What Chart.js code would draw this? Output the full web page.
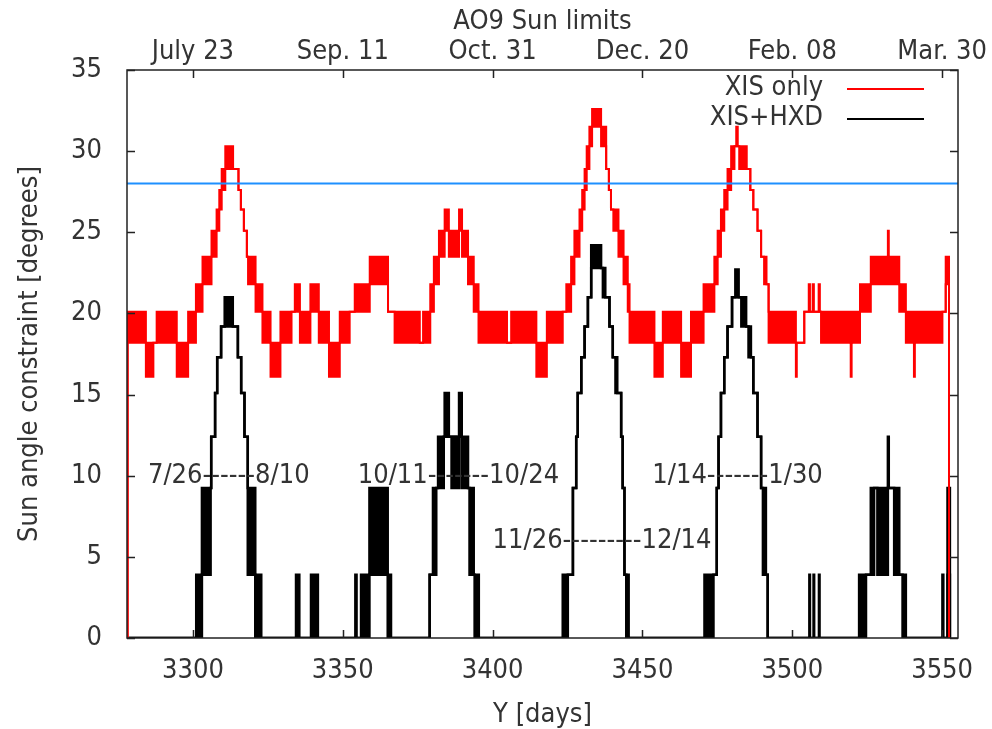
<!DOCTYPE html>
<html>
<head>
<meta charset="utf-8">
<title>AO9 Sun limits</title>
<script src="https://cdn.jsdelivr.net/npm/chart.js@4.4.1/dist/chart.umd.min.js"></script>
<style>
  html, body { margin: 0; padding: 0; background: #fff; }
  #wrap { width: 992px; height: 729px; }
</style>
</head>
<body>
<div id="wrap"><canvas id="sun"></canvas></div>
<script>
"use strict";

// x range and ticks (days)
const dayMin = 3278;
const dayMax = 3555.3;
const tickDays = [3300, 3350, 3400, 3450, 3500, 3550];
const topTickLabels = ["July 23", "Sep. 11", "Oct. 31", "Dec. 20", "Feb. 08", "Mar. 30"];
const sunLimit = 28;

// XIS only: each step starts at redDays[i]; rapid flicker drawn as a band low..high
const redDays = [
    3278.0, 3278.2, 3284.3, 3286.8, 3287.9, 3294.6, 3298.4, 3301.0, 3303.2, 3306.2,
    3307.9, 3308.8, 3309.6, 3310.8, 3313.4, 3315.2, 3316.0, 3317.0, 3318.0, 3318.4,
    3320.9, 3323.2, 3325.9, 3329.2, 3332.9, 3334.0, 3335.7, 3339.2, 3342.0, 3345.4,
    3349.0, 3352.3, 3354.0, 3359.0, 3365.1, 3367.3, 3375.7, 3376.8, 3379.2, 3380.4,
    3382.1, 3384.0, 3385.4, 3388.8, 3389.8, 3391.8, 3393.7, 3395.3, 3404.8, 3406.2,
    3414.6, 3418.1, 3423.4, 3424.6, 3426.2, 3427.3, 3429.0, 3429.9, 3430.7, 3431.4,
    3432.3, 3433.2, 3436.2, 3437.9, 3438.8, 3439.5, 3440.3, 3442.0, 3443.7, 3445.1,
    3445.7, 3454.0, 3456.8, 3462.9, 3466.2, 3470.4, 3474.0, 3475.1, 3476.2, 3477.3,
    3478.4, 3479.6, 3480.7, 3481.3, 3481.8, 3482.3, 3484.8, 3486.0, 3487.0, 3488.4,
    3489.6, 3490.6, 3491.4, 3492.1, 3501.2, 3501.5, 3504.0, 3505.5, 3505.9, 3506.8,
    3507.2, 3508.8, 3509.2, 3509.6, 3519.5, 3519.8, 3522.6, 3526.2, 3531.9, 3532.2,
    3535.7, 3537.9, 3540.6, 3540.9, 3550.1, 3551.2, 3552.3
];
const redLow = [
    0, 18.2, 16.1, 18.2, 18.2, 16.1, 18.2, 20.1, 21.8, 23.5,
    25.1, 26.4, 27.6, 28.9, 28.9, 27.6, 26.4, 25.1, 23.5, 21.8,
    20.1, 18.2, 16.1, 18.2, 20.1, 20.1, 18.2, 20.1, 18.2, 16.1,
    18.2, 20.1, 20.1, 21.8, 20.1, 18.2, 18.2, 18.2, 20.1, 21.8,
    23.5, 25.1, 23.5, 25.1, 23.5, 21.8, 20.1, 18.2, 18.2, 18.2,
    16.1, 18.2, 20.1, 20.1, 21.8, 23.5, 25.1, 26.4, 27.6, 28.9,
    30.3, 31.5, 30.3, 28.9, 27.6, 26.4, 25.1, 23.5, 21.8, 20.1,
    18.2, 16.1, 18.2, 16.1, 18.2, 20.1, 21.8, 23.5, 25.1, 26.4,
    27.6, 28.9, 30.3, 30.3, 30.3, 28.9, 28.9, 27.6, 26.4, 25.1,
    23.5, 21.8, 21.8, 18.2, 16.1, 18.2, 20.1, 20.1, 20.1, 20.1,
    20.1, 20.1, 20.1, 18.2, 16.1, 18.2, 20.1, 21.8, 23.5, 21.8,
    20.1, 18.2, 16.1, 18.2, 20.1, 21.8, 0
];
const redHigh = [
    0, 20.1, 18.2, 18.2, 20.1, 18.2, 20.1, 21.8, 23.5, 25.1,
    26.4, 27.6, 28.9, 30.3, 28.9, 27.6, 26.4, 25.1, 23.5, 23.5,
    21.8, 20.1, 18.2, 20.1, 20.1, 21.8, 20.1, 21.8, 20.1, 18.2,
    20.1, 20.1, 21.8, 23.5, 20.1, 20.1, 18.2, 20.1, 21.8, 23.5,
    25.1, 26.4, 25.1, 26.4, 25.1, 23.5, 21.8, 20.1, 18.2, 20.1,
    18.2, 20.1, 20.1, 21.8, 23.5, 25.1, 26.4, 27.6, 28.9, 30.3,
    31.5, 32.6, 31.5, 28.9, 27.6, 26.4, 26.4, 25.1, 23.5, 21.8,
    20.1, 18.2, 20.1, 18.2, 20.1, 21.8, 23.5, 25.1, 26.4, 27.6,
    28.9, 30.3, 30.3, 31.5, 30.3, 30.3, 28.9, 27.6, 26.4, 25.1,
    23.5, 23.5, 21.8, 20.1, 18.2, 18.2, 20.1, 21.8, 20.1, 21.8,
    20.1, 21.8, 20.1, 20.1, 18.2, 20.1, 21.8, 23.5, 25.1, 23.5,
    21.8, 20.1, 18.2, 20.1, 20.1, 23.5, 0
];

// XIS+HXD
const blackDays = [
    3278.0, 3301.1, 3303.0, 3305.9, 3306.1, 3307.4, 3308.1, 3309.4, 3310.6, 3313.3,
    3315.0, 3316.1, 3317.2, 3318.3, 3320.8, 3322.8, 3334.4, 3335.5, 3339.4, 3341.7,
    3354.2, 3354.6, 3356.1, 3358.9, 3365.0, 3366.1, 3379.0, 3380.1, 3381.2, 3381.8,
    3383.7, 3384.0, 3385.4, 3386.3, 3386.6, 3387.3, 3387.6, 3387.9, 3388.8, 3389.7,
    3391.8, 3392.3, 3393.7, 3394.0, 3395.4, 3423.4, 3423.8, 3424.3, 3425.1,
    3426.8, 3427.9, 3428.4, 3429.6, 3430.7, 3431.8, 3432.9, 3436.2, 3436.8, 3437.6,
    3439.0, 3440.1, 3441.0, 3441.6, 3442.9, 3443.4, 3444.0, 3444.6, 3445.4, 3470.7,
    3473.7, 3474.8, 3475.4, 3476.2, 3477.3, 3478.4, 3479.9, 3481.0, 3482.1, 3483.0,
    3484.6, 3485.4, 3486.2, 3487.0, 3488.4, 3489.6, 3490.2, 3491.2, 3491.8, 3505.7,
    3505.9, 3507.1, 3507.3, 3508.9, 3509.1, 3522.3, 3524.6, 3526.2, 3527.3, 3528.4,
    3531.9, 3532.2, 3534.0, 3535.7, 3536.8, 3537.9, 3550.1, 3550.4, 3551.8, 3552.6
];
const blackLow = [
    0, 0, 3.9, 9.25, 12.4, 15.1, 17.3, 19.2, 19.2, 19.2,
    17.3, 15.1, 12.4, 3.9, 0, 0, 0, 0, 0, 0,
    0, 0, 0, 3.9, 0, 0, 3.9, 3.9, 9.25, 9.25,
    12.4, 12.4, 12.4, 9.25, 12.4, 9.25, 12.4, 9.25, 12.4, 9.25,
    9.25, 3.9, 3.9, 0, 0, 0, 0, 0, 3.9,
    9.25, 12.4, 15.1, 17.3, 19.2, 21.0, 22.8, 22.8, 21.0, 21.0,
    19.2, 17.3, 15.1, 15.1, 12.4, 9.25, 3.9, 0, 0, 0,
    3.9, 9.25, 12.4, 15.1, 17.3, 19.2, 21.0, 21.0, 21.0, 19.2,
    19.2, 17.3, 17.3, 15.1, 12.4, 9.25, 3.9, 3.9, 0, 0,
    0, 0, 0, 0, 0, 0, 3.9, 3.9, 9.25, 3.9,
    9.25, 9.25, 3.9, 3.9, 0, 0, 0, 0, 3.9, 0
];
const blackHigh = [
    0, 3.9, 9.25, 9.25, 12.4, 15.1, 17.3, 19.2, 21.0, 19.2,
    17.3, 15.1, 12.4, 9.25, 3.9, 0, 3.9, 0, 3.9, 0,
    3.9, 0, 3.9, 9.25, 3.9, 0, 3.9, 9.25, 9.25, 12.4,
    12.4, 15.1, 12.4, 12.4, 12.4, 12.4, 12.4, 12.4, 15.1, 12.4,
    9.25, 9.25, 3.9, 3.9, 0, 3.9, 0, 3.9, 3.9,
    9.25, 12.4, 15.1, 17.3, 19.2, 21.0, 24.2, 22.8, 22.8, 21.0,
    19.2, 17.3, 17.3, 15.1, 12.4, 9.25, 3.9, 3.9, 0, 3.9,
    3.9, 9.25, 12.4, 15.1, 17.3, 19.2, 21.0, 22.7, 21.0, 21.0,
    19.2, 19.2, 17.3, 15.1, 12.4, 9.25, 9.25, 3.9, 0, 3.9,
    0, 3.9, 0, 3.9, 0, 3.9, 3.9, 9.25, 9.25, 9.25,
    12.4, 9.25, 9.25, 3.9, 3.9, 0, 3.9, 0, 9.25, 0
];

// date labels written inside the plot
const noteTexts = ["7/26------8/10", "10/11-------10/24", "11/26---------12/14", "1/14-------1/30"];
const noteDays = [3285, 3355, 3400, 3453.3];
const noteValues = [10, 10, 6, 10];

const FONT = '"DejaVu Sans Condensed", "DejaVu Sans", sans-serif';
const INK = "#333";

function points(days, values) {
    return days.map(function(d, i) { return { x: d, y: values[i] }; });
}

const gnuFrame = {
    id: "gnuFrame",
    afterDatasetsDraw(chart) {
        const ctx = chart.ctx;
        const a = chart.chartArea;
        const xs = chart.scales.x;
        const ys = chart.scales.y;
        ctx.save();
        ctx.strokeStyle = "#222";
        ctx.lineWidth = 1.5;
        ctx.strokeRect(a.left, a.top, a.right - a.left, a.bottom - a.top);
        ctx.beginPath();
        xs.ticks.forEach(function(t) {
            const px = Math.round(xs.getPixelForValue(t.value)) + 0.5;
            ctx.moveTo(px, a.bottom); ctx.lineTo(px, a.bottom - 8);
            ctx.moveTo(px, a.top); ctx.lineTo(px, a.top + 8);
        });
        ys.ticks.forEach(function(t) {
            const py = Math.round(ys.getPixelForValue(t.value)) + 0.5;
            ctx.moveTo(a.left, py); ctx.lineTo(a.left + 8, py);
            ctx.moveTo(a.right, py); ctx.lineTo(a.right - 8, py);
        });
        ctx.stroke();

        ctx.font = "27px " + FONT;
        ctx.fillStyle = INK;
        ctx.textBaseline = "middle";
        ctx.textAlign = "left";
        noteTexts.forEach(function(txt, i) {
            ctx.fillText(txt, xs.getPixelForValue(noteDays[i]), ys.getPixelForValue(noteValues[i]));
        });

        // key, text left of the line sample
        const keys = [chart.data.datasets[1], chart.data.datasets[3]];
        ctx.textAlign = "right";
        keys.forEach(function(ds, i) {
            const y = a.top + 18 + i * 30;
            ctx.fillStyle = INK;
            ctx.fillText(ds.label, a.right - 135, y);
            ctx.strokeStyle = ds.borderColor;
            ctx.lineWidth = 2;
            ctx.beginPath();
            ctx.moveTo(a.right - 111, y + 1);
            ctx.lineTo(a.right - 34, y + 1);
            ctx.stroke();
        });
        ctx.restore();
    }
};

const font = { family: FONT, size: 27 };

new Chart(document.getElementById("sun"), {
    type: "line",
    data: {
        datasets: [ {
            label: "Sun limit",
            data: [ { x: dayMin, y: sunLimit }, { x: dayMax, y: sunLimit } ],
            borderColor: "#1e90ff",
            borderWidth: 2,
            order: 0
        }, {
            label: "XIS only",
            data: points(redDays, redHigh),
            borderColor: "#ff0000",
            borderWidth: 2,
            stepped: true,
            order: 1
        }, {
            label: "XIS only low",
            data: points(redDays, redLow),
            borderColor: "#ff0000",
            backgroundColor: "#ff0000",
            borderWidth: 2,
            stepped: true,
            fill: "-1",
            order: 1
        }, {
            label: "XIS+HXD",
            data: points(blackDays, blackHigh),
            borderColor: "#000000",
            borderWidth: 2.5,
            stepped: true,
            order: 2
        }, {
            label: "XIS+HXD low",
            data: points(blackDays, blackLow),
            borderColor: "#000000",
            backgroundColor: "#000000",
            borderWidth: 2.5,
            stepped: true,
            fill: "-1",
            order: 2
        } ]
    },
    options: {
        responsive: true,
        maintainAspectRatio: false,
        animation: false,
        layout: { padding: { right: 34 } },
        elements: { point: { radius: 0 }, line: { tension: 0 } },
        plugins: {
            legend: { display: false },
            tooltip: { enabled: false }
        },
        scales: {
            x: {
                type: "linear",
                position: "bottom",
                min: dayMin,
                max: dayMax,
                afterBuildTicks: function(s) { s.ticks = tickDays.map(function(v) { return { value: v }; }); },
                afterFit: function(s) { s.height = 91; },
                grid: { display: false },
                border: { display: false },
                ticks: {
                    font: font, color: INK, padding: 9, maxRotation: 0, autoSkip: false,
                    callback: function(v) { return String(v); }
                },
                title: { display: true, text: "Y [days]", font: font, color: INK, padding: { top: 0, bottom: -2 } }
            },
            xTop: {
                type: "linear",
                position: "top",
                min: dayMin,
                max: dayMax,
                afterBuildTicks: function(s) { s.ticks = tickDays.map(function(v) { return { value: v }; }); },
                afterFit: function(s) { s.height = 70; },
                grid: { display: false },
                border: { display: false },
                ticks: {
                    font: font, color: INK, padding: -6, maxRotation: 0, autoSkip: false,
                    callback: function(v, i) { return topTickLabels[i]; }
                },
                title: { display: true, text: "AO9 Sun limits", font: font, color: INK, padding: { top: 6, bottom: 0 } }
            },
            y: {
                min: 0,
                max: 35,
                afterFit: function(s) { s.width = 127; },
                grid: { display: false },
                border: { display: false },
                ticks: { stepSize: 5, font: font, color: INK, padding: 17 },
                title: { display: true, text: "Sun angle constraint [degrees]", font: font, color: INK, padding: { top: 14, bottom: 0 } }
            }
        }
    },
    plugins: [ gnuFrame ]
});
</script>
</body>
</html>
